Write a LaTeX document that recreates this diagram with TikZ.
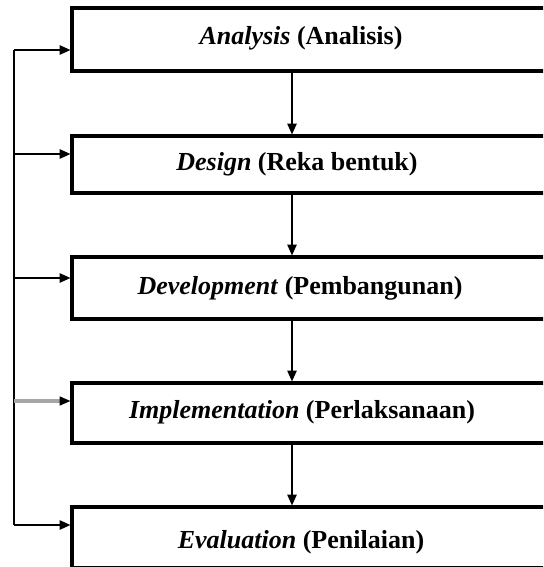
\documentclass[tikz,border=0pt]{standalone}
\usepackage{fontspec}
\setmainfont{Liberation Serif}
\usetikzlibrary{arrows.meta}
\begin{document}
\begin{tikzpicture}[x=0.75pt,y=-0.75pt,
  stagebox/.style={draw=black,line width=2.4pt,fill=white,minimum width=488*0.75pt,inner sep=0pt},
  stagetext/.style={font=\fontsize{19.5}{21}\selectfont\bfseries,inner sep=0pt,anchor=base},
  conn/.style={line width=1pt,-{Triangle[length=8pt,width=7pt,color=black]}},
  greyconn/.style={line width=3pt,draw=black!35,-{Triangle[length=8pt,width=7pt,color=black,line width=0pt]}},
  fbline/.style={line width=1pt}]
\useasboundingbox (0,0) rectangle (543,567);
\begin{scope}
\clip (0,0) rectangle (543,567);
\node[stagebox,minimum height=63*0.75pt] (b1) at (316,39.5) {};
\node[stagebox,minimum height=57*0.75pt] (b2) at (316,164.5) {};
\node[stagebox,minimum height=62*0.75pt] (b3) at (316,288) {};
\node[stagebox,minimum height=60*0.75pt] (b4) at (316,413) {};
\node[stagebox,minimum height=61*0.75pt] (b5) at (316,537.5) {};
\end{scope}
\node[stagetext] (t1) at (301,45) {\textit{Analysis} (Analisis)};
\node[stagetext] (t2) at (297,170) {\textit{Design} (Reka bentuk)};
\node[stagetext] (t3) at (300,294) {\textit{Development} (Pembangunan)};
\node[stagetext] (t4) at (302,418) {\textit{Implementation} (Perlaksanaan)};
\node[stagetext] (t5) at (301,548) {\textit{Evaluation} (Penilaian)};
% vertical flow
\coordinate (ax) at (292,0);
\draw[conn] (b1.south -| ax) -- (b2.north -| ax);
\draw[conn] (b2.south -| ax) -- (b3.north -| ax);
\draw[conn] (b3.south -| ax) -- (b4.north -| ax);
\draw[conn] (b4.south -| ax) -- (b5.north -| ax);
% feedback line
\coordinate (f1) at (14,50);
\coordinate (f2) at (14,154);
\coordinate (f3) at (14,278);
\coordinate (f4) at (14,401);
\coordinate (f5) at (14,525);
\draw[fbline] (f1) -- (f5);
\draw[conn] (f1) -- (f1 -| b1.west);
\draw[conn] (f2) -- (f2 -| b2.west);
\draw[conn] (f3) -- (f3 -| b3.west);
\draw[greyconn] (f4) -- (f4 -| b4.west);
\draw[conn] (f5) -- (f5 -| b5.west);
\end{tikzpicture}
\end{document}
